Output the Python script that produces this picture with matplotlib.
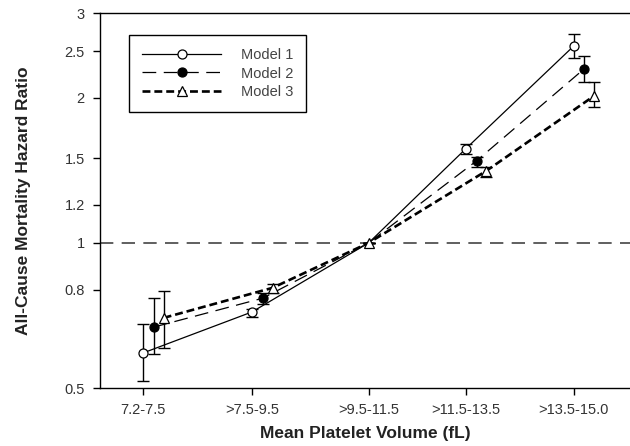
import matplotlib.pyplot as plt
import numpy as np

plt.rcParams["font.family"] = ["Liberation Sans", "DejaVu Sans"]

categories = ["7.2-7.5", ">7.5-9.5", ">9.5-11.5", ">11.5-13.5", ">13.5-15.0"]
# x positions as drawn in the original (slightly uneven spacing)
x_pos = [0.0, 1.0, 2.07, 2.96, 3.95]

model1 = [0.591, 0.719, 1.0, 1.567, 2.56]
model1_lo = [0.517, 0.702, 1.0, 1.53, 2.42]
model1_hi = [0.679, 0.731, 1.0, 1.605, 2.71]

model2 = [0.669, 0.768, 1.0, 1.48, 2.30]
model2_lo = [0.588, 0.747, 1.0, 1.44, 2.16]
model2_hi = [0.768, 0.787, 1.0, 1.51, 2.44]

model3 = [0.699, 0.807, 1.0, 1.411, 2.02]
model3_lo = [0.605, 0.787, 1.0, 1.37, 1.91]
model3_hi = [0.795, 0.822, 1.0, 1.44, 2.16]

yticks = [0.5, 0.8, 1, 1.2, 1.5, 2, 2.5, 3]
ref_idx = 2  # reference category, all models at HR = 1

fig = plt.figure(figsize=(6.3, 4.46), dpi=100)
ax = fig.add_axes([100 / 630, 58 / 446, 530 / 630, 375 / 446])

x = np.array(x_pos)
series = [
    ("Model 1", model1, model1_lo, model1_hi, 0.0, "-", 0.9, "o", "white"),
    ("Model 2", model2, model2_lo, model2_hi, 0.10, (0, (11, 6)), 0.9, "o", "black"),
    ("Model 3", model3, model3_lo, model3_hi, 0.19, (0, (3, 1.5)), 1.9, "^", "white"),
]

ax.axhline(1, color="#444444", linestyle=(0, (8, 5)), linewidth=1.2, zorder=1)

for i, (label, y, lo, hi, off, ls, lw, mk, mfc) in enumerate(series):
    y = np.array(y)
    xs = x + off
    xs[ref_idx] = x[ref_idx]
    err = [y - np.array(lo), np.array(hi) - y]
    ax.errorbar(xs, y, yerr=err, fmt="none", ecolor="black",
                elinewidth=1.0, capsize=4.5, capthick=1.0, zorder=2)
    marks = [k for k in range(len(y)) if k != ref_idx or i == len(series) - 1]
    ax.plot(xs, y, color="black", linestyle=ls, linewidth=lw,
            marker=mk, markersize=6.5, markerfacecolor=mfc, markevery=marks,
            markeredgecolor="black", markeredgewidth=0.9, label=label,
            zorder=3 + i)

ax.set_yscale("log")
ax.set_ylim(0.5, 3)
ax.set_yticks(yticks)
ax.set_yticklabels([str(t) for t in yticks])
ax.minorticks_off()
ax.set_xlim(-0.394, 4.468)
ax.set_xticks(x_pos)
ax.set_xticklabels(categories)

ax.spines["right"].set_visible(False)
for s in ["left", "bottom", "top"]:
    ax.spines[s].set_linewidth(1.0)
ax.tick_params(axis="both", direction="out", length=5, width=1.0,
               labelsize=10.5, labelcolor="#333333", pad=6)

ax.set_xlabel("Mean Platelet Volume (fL)", fontsize=12.5, fontweight="bold",
              color="#222222", labelpad=6)
ax.set_ylabel("All-Cause Mortality Hazard Ratio", fontsize=12.5,
              fontweight="bold", color="#222222", labelpad=24)

leg = ax.legend(loc="upper left", bbox_to_anchor=(29 / 530, 353 / 375),
                borderaxespad=0, handlelength=5.4, numpoints=1, fontsize=10.5,
                labelspacing=0.3, borderpad=0.9, handletextpad=1.35,
                fancybox=False, framealpha=1, edgecolor="black")
leg.get_frame().set_linewidth(1.0)
for t in leg.get_texts():
    t.set_color("#444444")

fig.savefig("out.png", dpi=100)
